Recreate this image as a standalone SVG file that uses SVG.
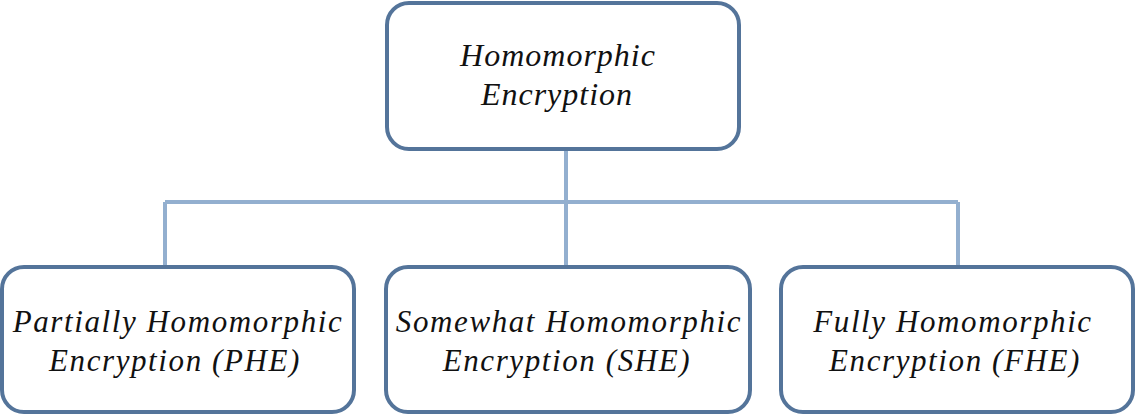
<svg xmlns="http://www.w3.org/2000/svg" width="1136" height="416" viewBox="0 0 1136 416">
<style>
.box{fill:#fff;stroke:#54749a;stroke-width:4}
.con{fill:none;stroke:#93afcf;stroke-width:4}
.t{font-family:"Liberation Serif","Times New Roman",serif;font-style:italic;fill:#111;text-anchor:middle}
.top{font-size:32px;letter-spacing:1px}
.bot{font-size:31px;letter-spacing:1.6px}
</style>
<rect width="1136" height="416" fill="#fff"/>
<g id="connectors">
<path class="con" d="M566 150V202M165 202H958M165 202V267M566 202V267M958 202V267"/>
</g>
<g id="root">
<rect class="box" x="387" y="3" width="352" height="146" rx="22"/>
<text class="t top" x="558" y="66">Homomorphic</text>
<text class="t top" x="557" y="105">Encryption</text>
</g>
<g id="phe">
<rect class="box" x="2" y="267" width="352" height="145" rx="22"/>
<text class="t bot" x="178" y="332">Partially Homomorphic</text>
<text class="t bot" x="175" y="371">Encryption (PHE)</text>
</g>
<g id="she">
<rect class="box" x="386" y="267" width="364" height="145" rx="22"/>
<text class="t bot" x="569" y="332">Somewhat Homomorphic</text>
<text class="t bot" x="567" y="371">Encryption (SHE)</text>
</g>
<g id="fhe">
<rect class="box" x="781" y="267" width="352" height="145" rx="22"/>
<text class="t bot" x="953" y="332">Fully Homomorphic</text>
<text class="t bot" x="955" y="371">Encryption (FHE)</text>
</g>
</svg>
